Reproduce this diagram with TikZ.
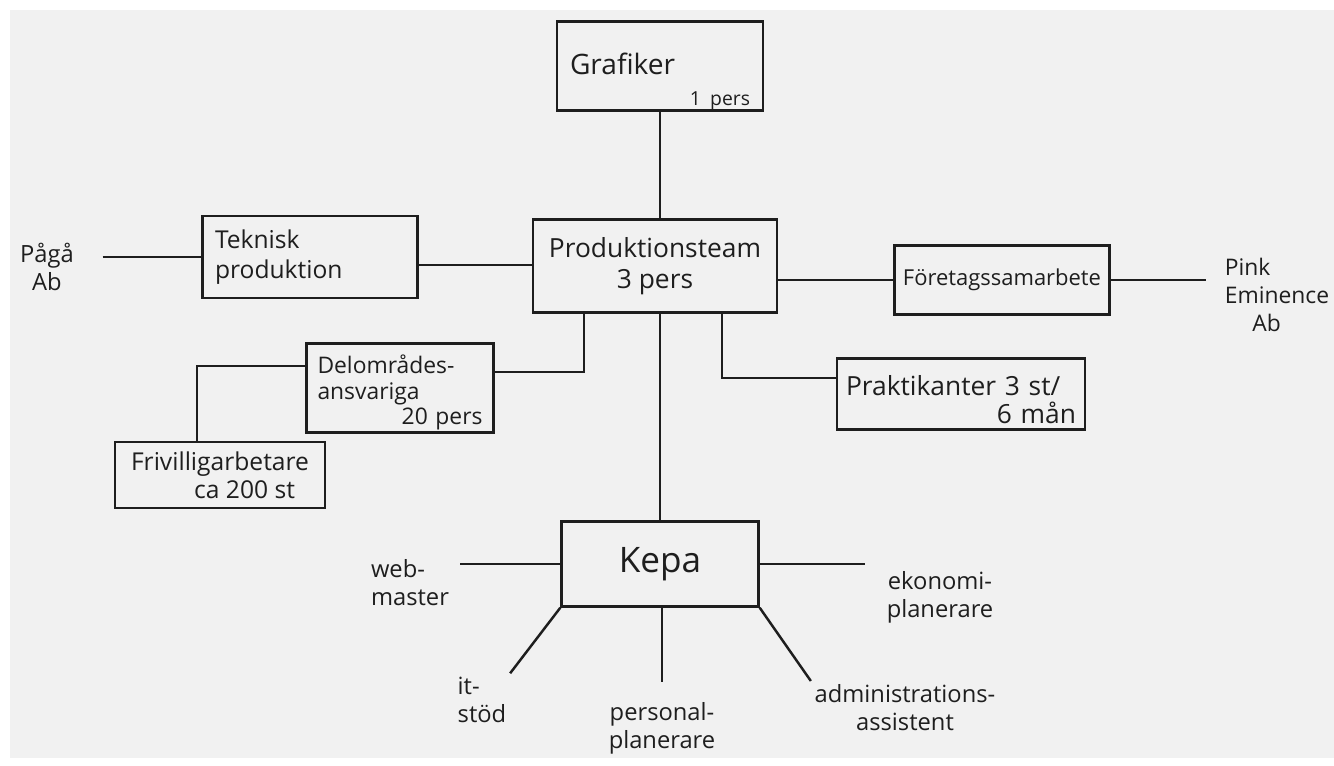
\documentclass[tikz,border=0pt]{standalone}
\usepackage{fontspec}
\setmainfont{Open Sans}
\usetikzlibrary{positioning, calc}

\definecolor{ink}{HTML}{1E1E1E}
\definecolor{paper}{HTML}{F1F1F1}

\begin{document}
\begin{tikzpicture}[
    x=0.02cm, y=-0.02cm,
    unit/.style={rectangle, draw=ink, line width=1.4pt, inner sep=0pt, text=ink, font=\fontsize{14}{17}\selectfont},
    role/.style={align=center, inner sep=2pt, text=ink, font=\fontsize{13.5}{16}\selectfont},
    link/.style={draw=ink, line width=1.4pt}
]

% Paper
\fill[white] (0,0) rectangle (1334,765);
\fill[paper] (10,10) rectangle (1334,758);
\useasboundingbox (0,0) rectangle (1334,765);

% Units
\node[unit, minimum width=4.12cm, minimum height=1.56cm, text width=3.6cm, align=left, font=\fontsize{16}{18}\selectfont] (grafiker) at (660,66) {\rule{0pt}{30pt}Grafiker\\\hspace*{\fill}{\fontsize{11}{13}\selectfont 1 pers}};
\node[unit, minimum width=4.88cm, minimum height=1.86cm, align=center, font=\fontsize{15}{18}\selectfont] (prodteam) at (655,266) {Produktionsteam\\3 pers};
\node[unit, minimum width=4.30cm, minimum height=1.64cm, text width=3.8cm, align=left] (teknisk) at (310,257) {Teknisk\\produktion};
\node[unit, minimum width=3.74cm, minimum height=1.78cm, text width=3.3cm, align=left, font=\fontsize{13}{14.5}\selectfont] (delomr) at (400,388) {\rule{0pt}{16pt}Delområdes-\\ansvariga\\\hspace*{\fill}20 pers};
\node[unit, minimum width=4.20cm, minimum height=1.32cm, align=center, font=\fontsize{14}{16}\selectfont] (frivillig) at (220,475) {Frivilligarbetare\\\hspace*{2em}ca 200 st};
\node[unit, minimum width=4.30cm, minimum height=1.38cm, font=\fontsize{12.5}{15}\selectfont] (foretag) at (1002,280) {Företagssamarbete};
\node[unit, minimum width=4.96cm, minimum height=1.42cm, text width=4.6cm, align=left, font=\fontsize{15}{16}\selectfont] (praktik) at (961,394) {\rule{0pt}{18pt}Praktikanter 3 st/\\\hspace*{\fill}6 mån};
\node[unit, minimum width=3.94cm, minimum height=1.70cm, font=\fontsize{20}{24}\selectfont] (kepa) at (660,564) {Kepa};

% Outside parties
\node[role] (paga) at (47,267) {Pågå\\Ab};
\node[role, align=left, font=\fontsize{13}{16}\selectfont] (pink) at (1277,295) {Pink\\Eminence\\\hspace*{1.2em}Ab};

% Kepa roles
\node[role, align=left] (web) at (410,583) {web-\\master};
\node[role] (ekonomi) at (940,597) {ekonomi-\\planerare};
\node[role, align=left] (itstod) at (482,700) {it-\\stöd};
\node[role] (personal) at (662,728) {personal-\\planerare};
\node[role] (admin) at (905,708) {administrations-\\assistent};

% Grafiker - Produktionsteam - Kepa
\draw[link] (grafiker.south) -- (grafiker.south |- prodteam.north);
\draw[link] (kepa.north |- prodteam.south) -- (kepa.north);

% Left branch
\draw[link, shorten <=0.5cm] (paga.east |- teknisk.west) -- (teknisk.west);
\draw[link] ([yshift=-0.16cm]teknisk.east) -- ([yshift=-0.16cm]teknisk.east -| prodteam.west);
\draw[link] ([xshift=-1.42cm]prodteam.south) |- ([yshift=0.32cm]delomr.east);
\draw[link] ([yshift=0.44cm]delomr.west) -| ([xshift=-0.46cm]frivillig.north);

% Right branch
\draw[link] (foretag.west -| prodteam.east) -- (foretag.west);
\draw[link, shorten >=0.3cm] (foretag.east) -- (foretag.east -| pink.west);
\draw[link] ([xshift=1.34cm]prodteam.south) |- ([yshift=0.32cm]praktik.west);

% Kepa - roles
\draw[link, shorten >=0.14cm] (kepa.west) -- (kepa.west -| web.east);
\draw[link, shorten >=0.36cm] (kepa.east) -- (kepa.east -| ekonomi.west);
\draw[link] (kepa.south west) -- (itstod.north east);
\draw[link, shorten >=0.32cm] (kepa.south -| personal.north) -- (personal.north);
\draw[link] (kepa.south east) -- (admin.north west);

\end{tikzpicture}
\end{document}
